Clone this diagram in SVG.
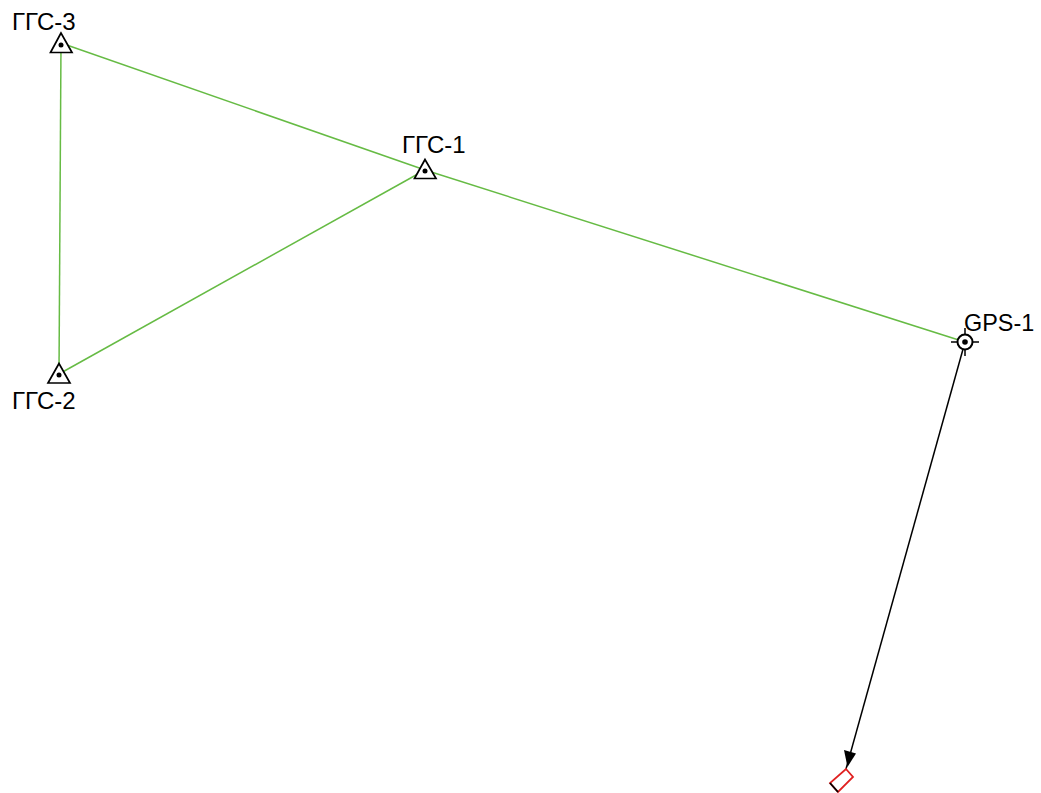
<svg xmlns="http://www.w3.org/2000/svg" width="1041" height="793" viewBox="0 0 1041 793">
<style>
text{font-family:"Liberation Sans",Arial,sans-serif;font-size:24px;fill:#000}
.g{stroke:#66bb44;stroke-width:1.5;fill:none}
.tri{fill:#fff;stroke:#000;stroke-width:1.7}
.k{stroke:#000;stroke-width:1.5;fill:none}
</style>
<rect width="1041" height="793" fill="#fff"/>
<g id="connectors">
<line class="g" x1="61" y1="43" x2="425" y2="170"/>
<line class="g" x1="425" y1="170" x2="965" y2="342"/>
<line class="g" x1="61" y1="43" x2="59" y2="374"/>
<line class="g" x1="59" y1="374" x2="425" y2="170"/>
<line class="k" x1="965" y1="342" x2="846" y2="769"/>
<polygon points="844,750 856,753.500 847.500,767" fill="#000"/>
</g>
<g id="ggs3"><polygon class="tri" points="61,33 50.500,52.500 72,52.500"/><circle cx="61" cy="45" r="2.500"/><text x="12" y="30">ГГС-3</text></g>
<g id="ggs1"><polygon class="tri" points="425,159.500 414.500,178.500 436,178.500"/><circle cx="425" cy="171" r="2.500"/><text x="402" y="153">ГГС-1</text></g>
<g id="ggs2"><polygon class="tri" points="59,363.500 48,383 70,383"/><circle cx="59" cy="375" r="2.500"/><text x="12" y="409">ГГС-2</text></g>
<g id="gps1"><path class="k" d="M951,342H979M965,328V356" stroke-width="1.200"/><circle cx="965" cy="342" r="7.500" fill="#fff" stroke="#000" stroke-width="2"/><circle cx="965" cy="342" r="2.800"/><text x="964" y="331" style="font-size:23.400px">GPS-1</text></g>
<g id="rover"><polygon points="846,769 853,777 838,792 830,783" fill="#fff" stroke="#e02020" stroke-width="1.800"/><path d="M830,783L838,792" stroke="#000" stroke-width="1.800"/></g>
</svg>
